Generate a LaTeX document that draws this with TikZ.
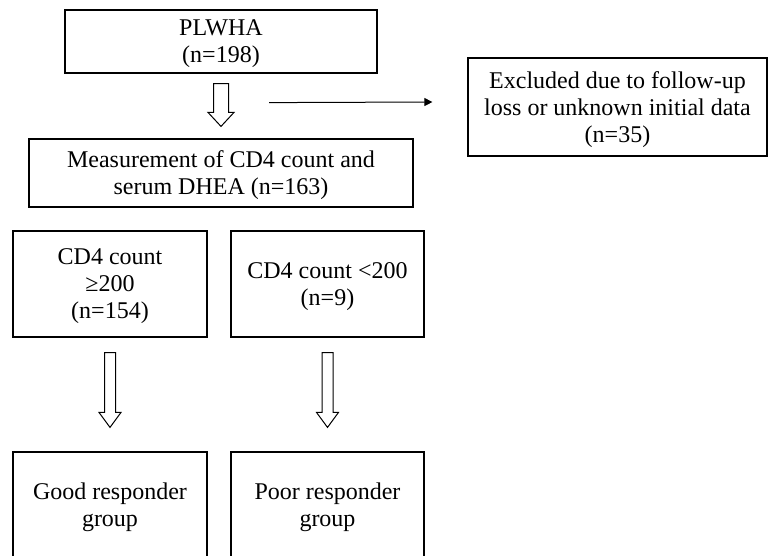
\documentclass[tikz,border=0pt]{standalone}
\usepackage{fontspec}
\setmainfont{Liberation Serif}
\usetikzlibrary{calc, arrows.meta}
\tikzset{
    boxnode/.style = {draw, rectangle, line width=1.2pt, align=center, inner sep=0em,
      text depth=0pt, node distance=0em, font=\fontsize{24}{27}\selectfont},
    connect/.style = {black, line width=1pt, -{Triangle[length=8pt, width=8pt]}},
    % outlined block arrow pointing down: shaft half width, head half width, head length
    hollow/.style n args = {3}{draw, line width=1pt, line join=miter, to path={
        let \p1 = (\tikztostart), \p2 = (\tikztotarget) in
        (\x1-#1, \y1) -- (\x1-#1, \y2+#3) -- (\x1-#2, \y2+#3) -- (\x1, \y2)
        -- (\x1+#2, \y2+#3) -- (\x1+#1, \y2+#3) -- (\x1+#1, \y1) -- cycle}}
}

\begin{document}
\begin{tikzpicture}
\useasboundingbox (0,0) rectangle (769pt,-555pt);
\clip (0,0) rectangle (769pt,-555pt);

\node [boxnode, name = plwha, minimum width=312pt, minimum height=63pt] at (221pt,-41.5pt)
    {PLWHA\\(n=198)};

\node [boxnode, name = excl, right of = plwha, xshift=396.5pt, yshift=-65.5pt,
    minimum width=299pt, minimum height=98pt]
    {Excluded due to follow-up\\loss or unknown initial data\\(n=35)};

\node [boxnode, name = measure, below of = plwha, yshift=-131.5pt,
    minimum width=384pt, minimum height=68pt]
    {Measurement of CD4 count and\\serum DHEA (n=163)};

\node [boxnode, name = cdhigh, below of = measure, xshift=-111pt, yshift=-111pt,
    minimum width=194pt, minimum height=106pt]
    {CD4 count\\≥200\\(n=154)};
\node [boxnode, name = cdlow, right of = cdhigh, xshift=217.5pt,
    minimum width=193pt, minimum height=106pt]
    {CD4 count <200\\(n=9)};

\node [boxnode, name = good, below of = cdhigh, yshift=-221pt,
    minimum width=194pt, minimum height=106pt]
    {Good responder\\group};
\node [boxnode, name = poor, below of = cdlow, yshift=-221pt,
    minimum width=193pt, minimum height=106pt]
    {Poor responder\\group};

% block arrows between the stages
\draw [hollow={7.5pt}{13pt}{14pt}] ($(plwha.south)+(0,-10pt)$) to ($(measure.north)+(0,12pt)$);
\draw [hollow={5.5pt}{11pt}{15pt}] ($(cdhigh.south)+(0,-15pt)$) to ($(good.north)+(0,24pt)$);
\draw [hollow={5.5pt}{11pt}{15pt}] ($(cdlow.south)+(0,-15pt)$) to ($(poor.north)+(0,24pt)$);

\coordinate (lossfrom) at ($(plwha.south)+(48pt,-29pt)$);
\draw [connect] (lossfrom) -- ($(excl.west)+(-35pt,5pt)$);

\end{tikzpicture}
\end{document}
